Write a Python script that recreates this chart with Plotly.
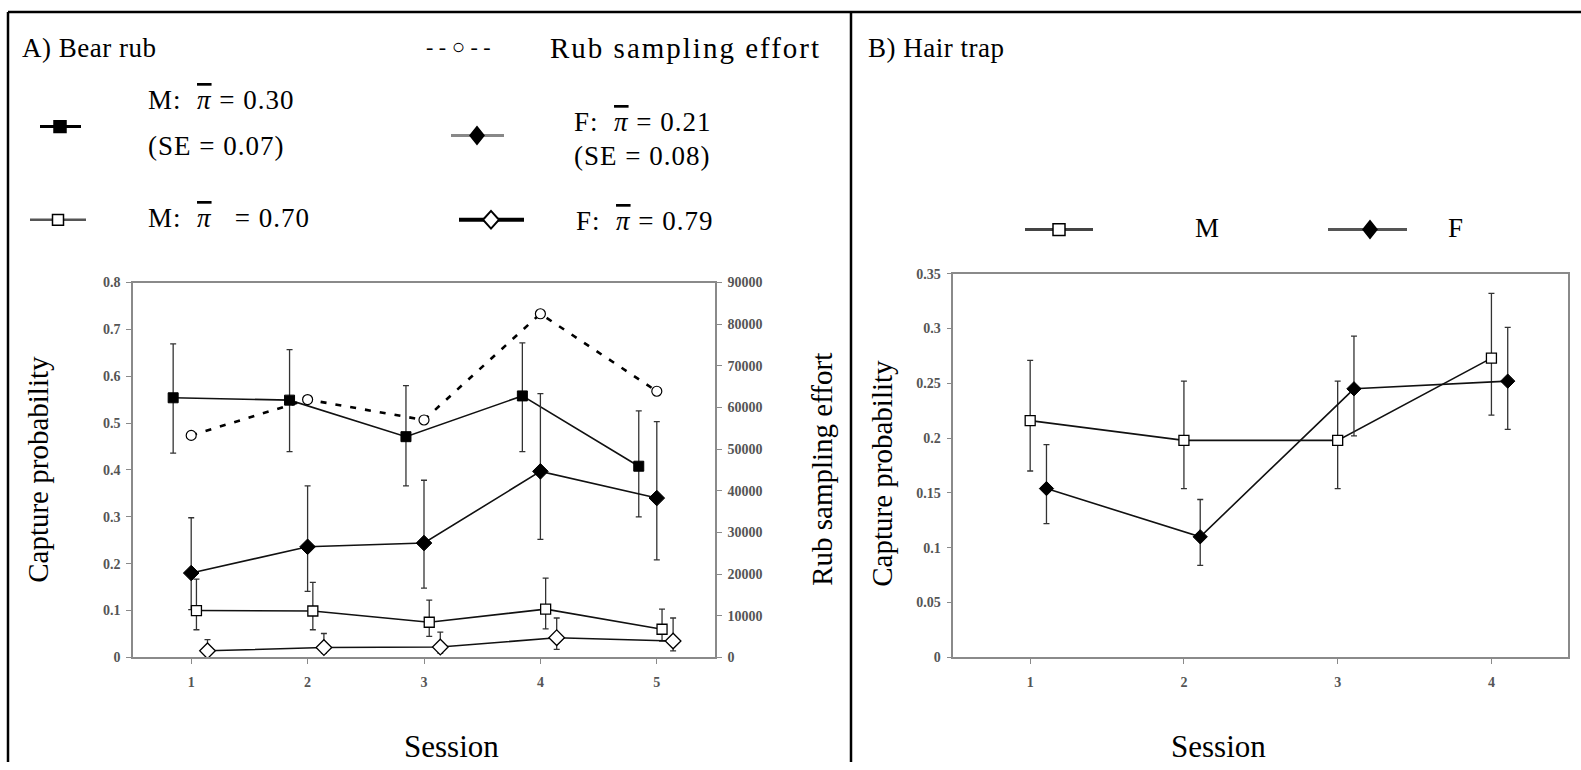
import plotly.graph_objects as go

W, H = 1581, 770

# ---------------- data ----------------
sessions_a = [1, 2, 3, 4, 5]
rub_m30 = [0.554, 0.549, 0.471, 0.558, 0.408]
rub_m30_hi = [0.669, 0.657, 0.580, 0.671, 0.526]
rub_m30_lo = [0.436, 0.439, 0.366, 0.439, 0.300]

rub_f21 = [0.180, 0.236, 0.244, 0.397, 0.340]
rub_f21_hi = [0.298, 0.366, 0.378, 0.563, 0.503]
rub_f21_lo = [0.102, 0.141, 0.148, 0.252, 0.208]

rub_m70 = [0.100, 0.099, 0.075, 0.103, 0.060]
rub_m70_hi = [0.167, 0.160, 0.122, 0.169, 0.103]
rub_m70_lo = [0.059, 0.059, 0.045, 0.061, 0.035]

rub_f79 = [0.014, 0.021, 0.022, 0.042, 0.035]
rub_f79_hi = [0.038, 0.051, 0.054, 0.084, 0.084]
rub_f79_lo = [0.005, 0.009, 0.009, 0.017, 0.014]

rub_effort = [53300, 61900, 57000, 82500, 63900]

sessions_b = [1, 2, 3, 4]
hair_m = [0.216, 0.198, 0.198, 0.273]
hair_m_hi = [0.271, 0.252, 0.252, 0.332]
hair_m_lo = [0.170, 0.154, 0.154, 0.221]
hair_f = [0.154, 0.110, 0.245, 0.252]
hair_f_hi = [0.194, 0.144, 0.293, 0.301]
hair_f_lo = [0.122, 0.084, 0.202, 0.208]

yticks_a = [0, 0.1, 0.2, 0.3, 0.4, 0.5, 0.6, 0.7, 0.8]
yticks_b = [0, 0.05, 0.1, 0.15, 0.2, 0.25, 0.3, 0.35]

# ---------------- style helpers ----------------
SERIF = "Liberation Serif, DejaVu Serif"
TXT = 27
TITLE = 29
AXC = "#8a8a8a"
TICKFONT = dict(family=SERIF, size=14, color="#555", weight="bold")
EBC = "#333"


def px(x):
    return x / W


def py(y):
    return 1 - y / H


def shift(xs, d):
    return [x + d for x in xs]


def err(vals, hi, lo):
    return dict(type="data", symmetric=False,
                array=[h - v for v, h in zip(vals, hi)],
                arrayminus=[v - l for v, l in zip(vals, lo)],
                color=EBC, thickness=1.3, width=3)


fig = go.Figure()

# Panel A traces
fig.add_trace(go.Scatter(
    x=shift(sessions_a, -0.155), y=rub_m30, mode="lines+markers",
    line=dict(color="#111", width=1.6),
    marker=dict(symbol="square", size=10, color="black", line=dict(color="black", width=1)),
    error_y=err(rub_m30, rub_m30_hi, rub_m30_lo), xaxis="x", yaxis="y"))
fig.add_trace(go.Scatter(
    x=shift(sessions_a, 0.0), y=rub_f21, mode="lines+markers",
    line=dict(color="#111", width=1.6),
    marker=dict(symbol="diamond", size=12, color="black", line=dict(color="black", width=1)),
    error_y=err(rub_f21, rub_f21_hi, rub_f21_lo), xaxis="x", yaxis="y"))
fig.add_trace(go.Scatter(
    x=shift(sessions_a, 0.045), y=rub_m70, mode="lines+markers",
    line=dict(color="#111", width=1.6),
    marker=dict(symbol="square", size=10, color="white", line=dict(color="black", width=1.3)),
    error_y=err(rub_m70, rub_m70_hi, rub_m70_lo), xaxis="x", yaxis="y"))
fig.add_trace(go.Scatter(
    x=shift(sessions_a, 0.14), y=rub_f79, mode="lines+markers",
    line=dict(color="#111", width=1.6),
    marker=dict(symbol="diamond", size=12, color="white", line=dict(color="black", width=1.3)),
    error_y=err(rub_f79, rub_f79_hi, rub_f79_lo), xaxis="x", yaxis="y"))
fig.add_trace(go.Scatter(
    x=sessions_a, y=rub_effort, mode="lines+markers",
    line=dict(color="black", width=2.6, dash="6px,9px"),
    marker=dict(symbol="circle", size=10, color="white", line=dict(color="black", width=1.2)),
    xaxis="x", yaxis="y2"))

# Panel B traces
fig.add_trace(go.Scatter(
    x=sessions_b, y=hair_m, mode="lines+markers",
    line=dict(color="#111", width=1.6),
    marker=dict(symbol="square", size=10, color="white", line=dict(color="black", width=1.3)),
    error_y=err(hair_m, hair_m_hi, hair_m_lo), xaxis="x2", yaxis="y3"))
fig.add_trace(go.Scatter(
    x=shift(sessions_b, 0.106), y=hair_f, mode="lines+markers",
    line=dict(color="#111", width=1.6),
    marker=dict(symbol="diamond", size=11, color="black", line=dict(color="black", width=1)),
    error_y=err(hair_f, hair_f_hi, hair_f_lo), xaxis="x2", yaxis="y3"))

# ---------------- axes ----------------
A_X0, A_X1 = 133, 715
A_TOP, BOT = 281, 663.3
B_X0, B_X1 = 953.3, 1568.3
B_TOP = 272

common_x = dict(showline=True, linecolor=AXC, linewidth=1.5, mirror=True,
                ticks="outside", ticklen=5, tickcolor=AXC, tickwidth=1,
                showgrid=False, zeroline=False, tickfont=TICKFONT,
                ticklabelstandoff=6, fixedrange=True)
common_y = dict(showline=True, linecolor=AXC, linewidth=1.5,
                ticks="outside", ticklen=5, tickcolor=AXC, tickwidth=1,
                showgrid=False, zeroline=False, tickfont=TICKFONT,
                ticklabelstandoff=3, fixedrange=True)

fig.update_layout(
    xaxis=dict(domain=[px(A_X0), px(A_X1)], range=[0.5, 5.5],
               tickvals=sessions_a, ticktext=[str(s) for s in sessions_a],
               anchor="y", **common_x),
    yaxis=dict(domain=[py(BOT), py(A_TOP)], range=[0, 0.8],
               tickvals=yticks_a, ticktext=["0" if t == 0 else f"{t:g}" for t in yticks_a],
               anchor="x", **common_y),
    yaxis2=dict(overlaying="y", side="right", range=[0, 90000], dtick=10000,
                tickformat="d", anchor="x", **common_y),
    xaxis2=dict(domain=[px(B_X0), px(B_X1)], range=[0.5, 4.5],
                tickvals=sessions_b, ticktext=[str(s) for s in sessions_b],
                anchor="y3", **common_x),
    yaxis3=dict(domain=[py(BOT), py(B_TOP)], range=[0, 0.35],
                tickvals=yticks_b, ticktext=[f"{t:g}" for t in yticks_b],
                anchor="x2", mirror=True, **common_y),
)

# ---------------- decorations ----------------
shapes = []


def line(x0, y0, x1, y1, color="black", width=2.5, dash=None):
    d = dict(color=color, width=width)
    if dash:
        d["dash"] = dash
    shapes.append(dict(type="line", xref="paper", yref="paper",
                       x0=px(x0), y0=py(y0), x1=px(x1), y1=py(y1), line=d, layer="above"))


def square(cx, cy, s, fill):
    shapes.append(dict(type="rect", xref="paper", yref="paper",
                       x0=px(cx - s / 2), x1=px(cx + s / 2),
                       y0=py(cy + s / 2), y1=py(cy - s / 2),
                       fillcolor=fill, line=dict(color="black", width=1.5), layer="above"))


def diamond(cx, cy, w, h, fill, lw=1.5):
    path = (f"M {px(cx - w / 2)},{py(cy)} L {px(cx)},{py(cy - h / 2)} "
            f"L {px(cx + w / 2)},{py(cy)} L {px(cx)},{py(cy + h / 2)} Z")
    shapes.append(dict(type="path", xref="paper", yref="paper", path=path,
                       fillcolor=fill, line=dict(color="black", width=lw), layer="above"))


# table borders
line(8, 5, W, 5, width=2.5)
line(8, 5, 8, H, width=2.5)
line(851, 5, 851, H, width=2.5)

# panel A legend glyphs
line(40, 122, 81, 122, color="black", width=3)
square(60, 122, 12, "black")
line(451, 131, 504, 131, color="#888", width=3)
diamond(477, 131, 14, 18, "black")
line(30, 217, 86, 217, color="#555", width=2.5)
square(58, 217, 11, "white")
line(459, 217, 524, 217, color="black", width=4)
diamond(491, 217, 16, 18, "white", lw=2)

# panel B legend glyphs
line(1025, 227, 1093, 227, color="#444", width=3)
square(1059, 227, 12, "white")
line(1328, 227, 1407, 227, color="#555", width=3)
diamond(1370, 227, 14, 18, "black")

fig.update_layout(shapes=shapes)

PI = "<span style='text-decoration:overline'><i>\u03c0</i></span>"
NB = "\u00a0"
ann = []


def text(x, y, s, xanchor="left", size=TXT, angle=0, ls=0):
    if ls:
        s = f"<span style='letter-spacing:{ls}px'>{s}</span>"
    ann.append(dict(x=px(x), y=py(y), xref="paper", yref="paper", text=s,
                    showarrow=False, xanchor=xanchor, yanchor="middle",
                    textangle=angle, font=dict(family=SERIF, size=size, color="black")))


text(20, 42, "A) Bear rub", ls=0.5)
text(458, 40, "- - \u25cb - -", xanchor="center", size=22)
text(823, 42, "Rub sampling effort", xanchor="right", size=29, ls=2)
text(146, 95, f"M:{NB} {PI} = 0.30", ls=1)
text(146, 142, "(SE = 0.07)", ls=1)
text(572, 117, f"F:{NB} {PI} = 0.21", ls=1)
text(572, 152, "(SE = 0.08)", ls=1)
text(146, 215, f"M:{NB} {PI}{NB}{NB} = 0.70", ls=1)
text(574, 218, f"F:{NB} {PI} = 0.79", ls=1)
text(866, 42, "B) Hair trap", ls=0.5)
text(1207, 225, "M", xanchor="center")
text(1455, 225, "F", xanchor="center")
text(38, 472, "Capture probability", xanchor="center", angle=-90, size=TITLE)
text(822, 472, "Rub sampling effort", xanchor="center", angle=-90, size=TITLE)
text(882, 476, "Capture probability", xanchor="center", angle=-90, size=TITLE)
text(451, 754, "Session", xanchor="center", size=31)
text(1218, 754, "Session", xanchor="center", size=31)

fig.update_layout(
    annotations=ann,
    width=W, height=H, autosize=False,
    margin=dict(l=0, r=0, t=0, b=0),
    paper_bgcolor="white", plot_bgcolor="white",
    showlegend=False,
)

fig.write_html("out.html", config=dict(displayModeBar=False))
